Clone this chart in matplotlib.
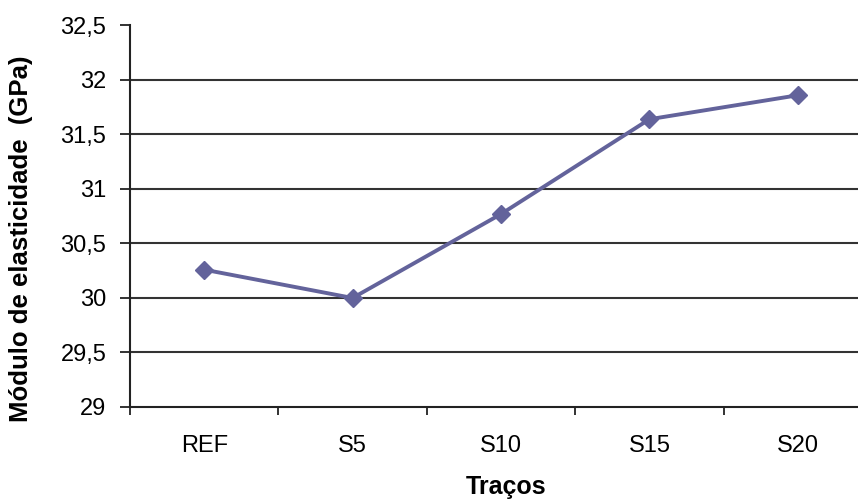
import numpy as np
import matplotlib.pyplot as plt

tracos = ["REF", "S5", "S10", "S15", "S20"]
modulo = [30.26, 30.00, 30.77, 31.64, 31.86]
y_ticks = [29, 29.5, 30, 30.5, 31, 31.5, 32, 32.5]

plt.rcParams['font.family'] = ['Liberation Sans', 'DejaVu Sans']

fig = plt.figure(figsize=(8.58, 5.01), dpi=100)
ax = fig.add_axes([130/858, 94/501, 742/858, 381.5/501])

x = np.arange(len(tracos)) + 0.5
ax.plot(x, modulo, color="#63639b", lw=2.8, marker="D", ms=9,
        solid_joinstyle="round", zorder=3)

ax.set_xlim(0, len(tracos))
ax.set_ylim(29, 32.5)
ax.set_yticks(y_ticks)
ax.set_yticklabels([f"{v:g}".replace(".", ",") for v in y_ticks], fontsize=17)
for v in y_ticks[1:-1]:
    ax.axhline(v, color="#333333", lw=1.5, zorder=1)

# boundaries between categories carry the tick marks, labels sit in the middle
ax.set_xticks(np.arange(len(tracos) + 1))
ax.set_xticklabels([])
ax.set_xticks(x, minor=True)
ax.set_xticklabels(tracos, minor=True, fontsize=17)
ax.tick_params(axis="x", which="minor", length=0, pad=20)
ax.tick_params(axis="x", which="major", length=6, width=1.3, color="#222222")
ax.tick_params(axis="y", length=7, width=1.3, color="#222222", pad=10)

for s in ["top", "right"]:
    ax.spines[s].set_visible(False)
for s in ["left", "bottom"]:
    ax.spines[s].set_linewidth(1.5)
    ax.spines[s].set_color("#222222")

ax.set_ylabel("Módulo de elasticidade  (GPa)", fontsize=18.5, fontweight="bold")
ax.yaxis.set_label_coords(-0.131, 0.44)
ax.set_xlabel("Traços", fontsize=18, fontweight="bold")
ax.xaxis.set_label_coords(0.507, -0.178)

fig.savefig("out.png", dpi=100)
